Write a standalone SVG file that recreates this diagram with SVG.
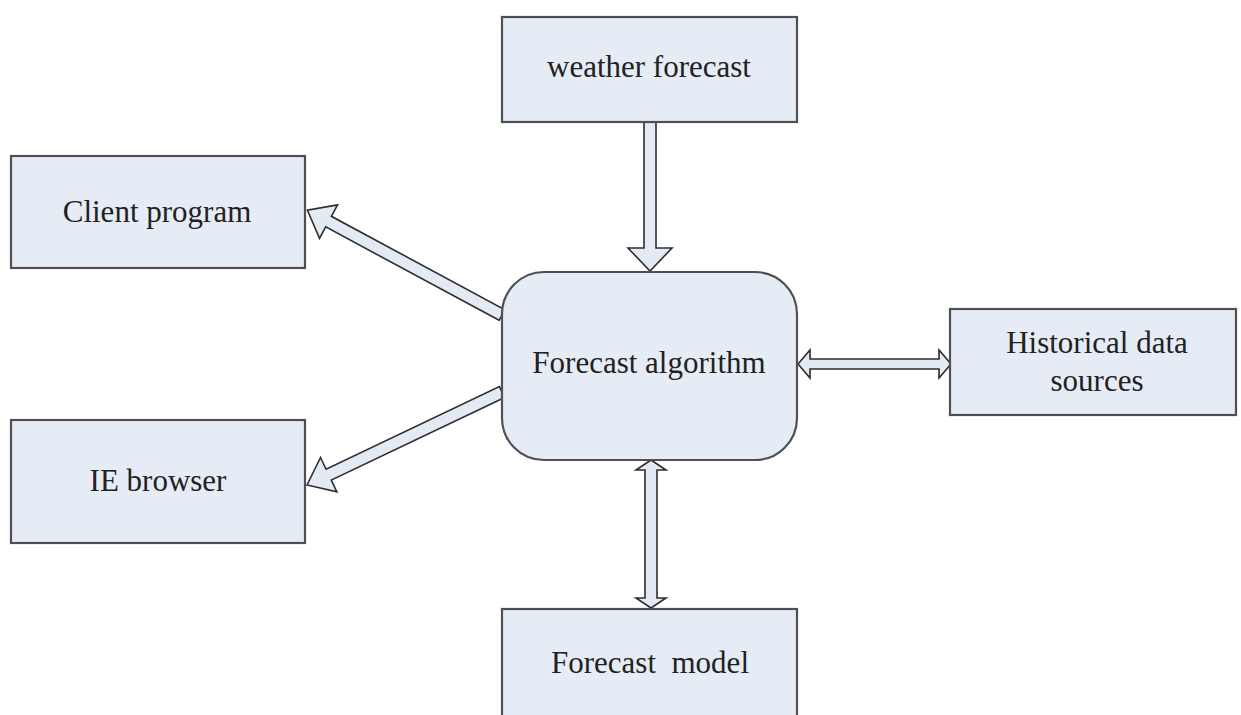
<svg xmlns="http://www.w3.org/2000/svg" width="1241" height="715" viewBox="0 0 1241 715">
<style>
.box{fill:#e5ecf6;stroke:#505050;stroke-width:2.2}
.arr{fill:#e3eaf4;stroke:#2e2e2e;stroke-width:1.6;stroke-linejoin:miter}
.t{font-family:"Liberation Serif","Times New Roman",serif;font-size:31px;fill:#222;text-anchor:middle}
</style>
<rect width="1241" height="715" fill="#ffffff"/>
<g id="connectors">
<polygon class="arr" points="644,122 656,122 656,248 672,248 650,271 628,248 644,248"/>
<polygon class="arr" transform="translate(502,315) rotate(-151.7)" points="0,-6 197,-6 197,-19 221,0 197,19 197,6 0,6"/>
<polygon class="arr" transform="translate(502,392) rotate(154.5)" points="0,-6 192,-6 192,-19 216,0 192,19 192,6 0,6"/>
<polygon class="arr" points="798,364 810,350 810,359 939,359 939,350 951,364 939,378 939,369 810,369 810,378"/>
<polygon class="arr" points="651,460 636,470 645,470 645,598 636,598 651,608 666,598 657,598 657,470 666,470"/>
</g>
<g id="weather">
<rect class="box" x="502" y="17" width="295" height="105"/>
<text class="t" x="649" y="77">weather forecast</text>
</g>
<g id="client">
<rect class="box" x="11" y="156" width="294" height="112"/>
<text class="t" x="157" y="222">Client program</text>
</g>
<g id="ie">
<rect class="box" x="11" y="420" width="294" height="123"/>
<text class="t" x="158" y="491">IE browser</text>
</g>
<g id="algorithm">
<rect class="box" x="502" y="272" width="295" height="188" rx="42" ry="42"/>
<text class="t" x="649" y="373">Forecast algorithm</text>
</g>
<g id="historical">
<rect class="box" x="950" y="309" width="286" height="106"/>
<text class="t" x="1097" y="353">Historical data</text>
<text class="t" x="1097" y="391">sources</text>
</g>
<g id="model">
<rect class="box" x="502" y="609" width="295" height="120"/>
<text class="t" x="650" y="673" xml:space="preserve">Forecast  model</text>
</g>
</svg>
